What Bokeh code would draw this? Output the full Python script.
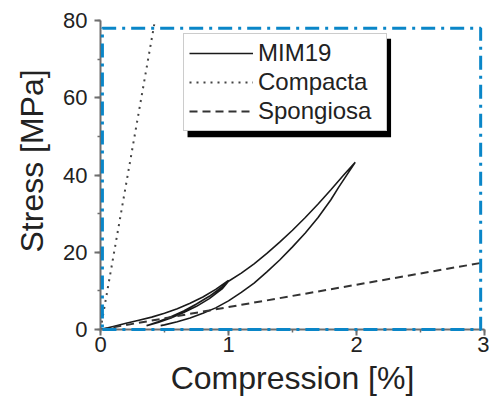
from bokeh.plotting import figure
from bokeh.models import Legend, LegendItem, SingleIntervalTicker, Range1d, Title
from bokeh.embed import file_html
from bokeh.resources import INLINE

# ---- data ----
mim19_x = [0, 0.1, 0.2, 0.3, 0.4, 0.5, 0.6, 0.7, 0.8, 0.9, 1.0,
           0.95, 0.85, 0.75, 0.65, 0.55, 0.45, 0.36,
           0.45, 0.55, 0.65, 0.75, 0.85, 0.95, 1.0, 1.1, 1.2, 1.3, 1.4, 1.5, 1.6, 1.7, 1.8, 1.9, 1.99,
           1.93, 1.86, 1.8, 1.7, 1.6, 1.5, 1.4, 1.3, 1.2, 1.1, 1.0, 0.9, 0.8, 0.7, 0.6, 0.5, 0.47]
mim19_y = [0, 0.8, 1.6, 2.4, 3.2, 4.2, 5.4, 6.8, 8.4, 10.4, 12.7,
           11.0, 8.6, 6.6, 4.8, 3.3, 2.0, 1.0,
           1.8, 3.0, 4.4, 6.0, 8.0, 10.5, 12.5, 14.6, 17.0, 19.7, 22.6, 25.7, 29.0, 32.5, 36.2, 40.0, 43.3,
           40.3, 36.8, 33.6, 29.0, 25.0, 21.4, 18.0, 14.9, 12.0, 9.6, 7.4, 5.6, 4.2, 3.0, 2.0, 1.2, 1.0]
compacta_x = [0, 0.42]
compacta_y = [0, 79]
spongiosa_x = [0, 3]
spongiosa_y = [0, 17.4]
box_x = [0.015, 2.97, 2.97, 0.015, 0.015]
box_y = [0, 0, 78, 78, 0]
labels = ["MIM19", "Compacta", "Spongiosa"]

FONT = "Liberation Sans"
AX = "#6e6e6e"
TXT = "#222222"

p = figure(frame_width=384, frame_height=309, output_backend="svg", toolbar_location=None,
           x_range=Range1d(0, 3), y_range=Range1d(0, 80),
           min_border_left=100, min_border_right=5, min_border_top=20, min_border_bottom=68)
p.outline_line_color = None
p.xgrid.visible = False
p.ygrid.visible = False
p.background_fill_color = "white"
p.border_fill_color = "white"

p.xaxis.ticker = SingleIntervalTicker(interval=1, num_minor_ticks=2)
p.yaxis.ticker = SingleIntervalTicker(interval=20, num_minor_ticks=2)
for ax in (p.xaxis, p.yaxis):
    ax.axis_line_color = AX
    ax.axis_line_width = 2
    ax.major_tick_line_color = AX
    ax.major_tick_line_width = 2
    ax.minor_tick_line_color = AX
    ax.minor_tick_line_width = 1.5
    ax.major_tick_out = 6
    ax.major_tick_in = 0
    ax.minor_tick_out = 3
    ax.minor_tick_in = 0
    ax.major_label_text_font = FONT
    ax.major_label_text_font_size = "22px"
    ax.major_label_text_color = TXT
    ax.axis_label_text_font = FONT
    ax.axis_label_text_font_size = "32px"
    ax.axis_label_text_font_style = "normal"
    ax.axis_label_text_color = TXT
p.xaxis.axis_label = "Compression [%]"
p.xaxis.major_label_standoff = 1
p.xaxis.axis_label_standoff = 5
p.yaxis.major_label_standoff = 7

ytitle = Title(text="Stress [MPa]", align="left", offset=77, standoff=22,
               text_font=FONT, text_font_size="32px", text_font_style="normal", text_color=TXT)
p.add_layout(ytitle, "left")

# legend shadow (behind legend box)
p.quad(left=[0.680], right=[2.27], bottom=[49.8], top=[75.3], fill_color="black", line_color=None)

r_mim = p.line(mim19_x, mim19_y, line_color="#1a1a1a", line_width=1.6)
r_com = p.line(compacta_x, compacta_y, line_color="#444444", line_width=2, line_dash="2 5")
r_spo = p.line(spongiosa_x, spongiosa_y, line_color="#333333", line_width=2, line_dash="8 5")

p.line(box_x, box_y, line_color="#0a86c8", line_width=3, line_dash="14 6 3 6", level="overlay")

legend = Legend(items=[LegendItem(label=labels[0], renderers=[r_mim]),
                       LegendItem(label=labels[1], renderers=[r_com]),
                       LegendItem(label=labels[2], renderers=[r_spo])],
                location=(83, 198), glyph_width=64, glyph_height=26, label_height=26,
                label_width=123, padding=5, spacing=1, label_standoff=5, margin=0,
                label_text_font=FONT, label_text_font_size="24px", label_text_color=TXT,
                border_line_color="#999999", border_line_width=1, background_fill_alpha=1.0)
p.add_layout(legend, "center")

open("out.html", "w").write(file_html(p, INLINE))
